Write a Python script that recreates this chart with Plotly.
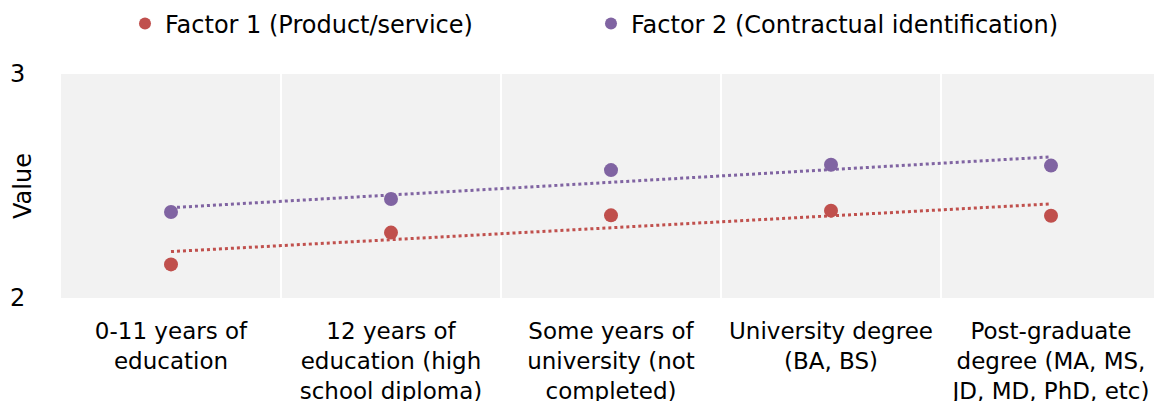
import numpy as np
import plotly.graph_objects as go

categories = [
    "0-11 years of<br>education",
    "12 years of<br>education (high<br>school diploma)",
    "Some years of<br>university (not<br>completed)",
    "University degree<br>(BA, BS)",
    "Post-graduate<br>degree (MA, MS,<br>JD, MD, PhD, etc)",
]
factor1 = [2.150, 2.292, 2.369, 2.390, 2.367]
factor2 = [2.384, 2.442, 2.571, 2.595, 2.591]
names = ["Factor 1 (Product/service)", "Factor 2 (Contractual identification)"]
colors = ["#C0504D", "#8064A2"]

# page body adds an 8px offset; layout coords = screen coords - 8
OFF = 8
W, H = 1162, 401
L, T = 61 - OFF, 74 - OFF
R = W - (1161 - OFF)
B = H - (298 - OFF)
pw, ph = W - L - R, H - T - B

fig = go.Figure()
idx = np.arange(len(categories))
for vals, name, col in zip([factor1, factor2], names, colors):
    k, b = np.polyfit(idx, vals, 1)
    fig.add_trace(go.Scatter(x=categories, y=k * idx + b, mode="lines",
                             line=dict(color=col, width=3, dash="dot"),
                             showlegend=False, hoverinfo="skip"))
for vals, name, col in zip([factor1, factor2], names, colors):
    fig.add_trace(go.Scatter(x=categories, y=vals, mode="markers", name=name,
                             marker=dict(color=col, size=14)))

font = dict(family="DejaVu Sans", size=24, color="#000000")
xfont = dict(family="DejaVu Sans", size=23, color="#000000")
fig.update_layout(
    width=W, height=H,
    margin=dict(l=L, r=R, t=T, b=B, autoexpand=False),
    paper_bgcolor="white", plot_bgcolor="#F2F2F2",
    font=font,
    showlegend=True,
    legend=dict(orientation="h", x=(117 - L) / pw, xanchor="left",
                y=1 + (T - (24 - OFF)) / ph, yanchor="middle",
                entrywidth=421, entrywidthmode="pixels",
                font=font, itemsizing="constant", bgcolor="rgba(0,0,0,0)"),
    xaxis=dict(type="category", tickson="boundaries", showgrid=True,
               gridcolor="white", gridwidth=2, showline=False, zeroline=False,
               ticks="", ticklabelstandoff=17,
               tickangle=0, tickfont=xfont, range=[-0.5, 4.5], automargin=False),
    yaxis=dict(range=[2, 3], tickvals=[2, 3], ticktext=["2", "3"],
               showgrid=False, zeroline=False, showline=False,
               ticks="outside", ticklen=30, tickcolor="rgba(0,0,0,0)",
               tickfont=font, automargin=False),
    annotations=[dict(text="Value", textangle=-90, xref="paper", yref="paper",
                      x=(23 - OFF - L) / pw, y=0.5, xanchor="center",
                      yanchor="middle", showarrow=False, font=font)],
)
fig.write_html("out.html")
